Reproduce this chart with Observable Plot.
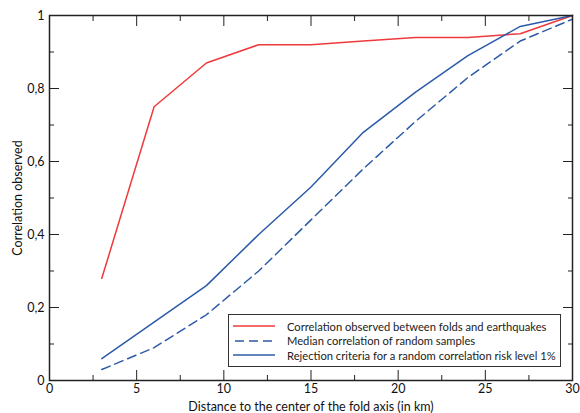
<!DOCTYPE html>
<html>
<head>
<meta charset="utf-8">
<script src="https://cdn.jsdelivr.net/npm/d3@7"></script>
<script src="https://cdn.jsdelivr.net/npm/@observablehq/plot@0.6"></script>
<style>
  body { margin: 0; background: #fff; font-family: Lato, "Open Sans", sans-serif; }
  #wrap { position: relative; width: 580px; height: 413px; }
  #legend { position: absolute; left: 228px; top: 314px; width: 333px; height: 53px; box-sizing: border-box;
    border: 1px solid #333; background: #fff; font-size: 11.2px; color: #222; padding-top: 4px; white-space: nowrap; overflow: hidden; }
  #legend .row { display: flex; align-items: center; height: 14.5px; }
  #legend svg { margin-left: 4px; margin-right: 12px; flex: none; }
</style>
</head>
<body>
<div id="wrap"></div>
<script>
const distance = [3, 6, 9, 12, 15, 18, 21, 24, 27, 30];
const observed = [0.28, 0.75, 0.87, 0.92, 0.92, 0.93, 0.94, 0.94, 0.95, 1.0];
const medianRandom = [0.03, 0.09, 0.18, 0.30, 0.44, 0.58, 0.71, 0.83, 0.93, 0.99];
const rejection = [0.06, 0.16, 0.26, 0.40, 0.53, 0.68, 0.79, 0.89, 0.97, 1.0];
const xMajor = [0, 5, 10, 15, 20, 25, 30];
const xMinor = [2.5, 7.5, 12.5, 17.5, 22.5, 27.5];
const yMajor = [0, 0.2, 0.4, 0.6, 0.8, 1];
const yMinor = [0.1, 0.3, 0.5, 0.7, 0.9];
const seriesNames = [
  "Correlation observed between folds and earthquakes",
  "Median correlation of random samples",
  "Rejection criteria for a random correlation risk level 1%"
];
const red = "#ee3a3c", blue = "#2c5aa8";

const rows = (ys) => distance.map((x, i) => ({x, y: ys[i]}));
const fmt = d => String(d).replace(".", ",");
const blank = () => "";

const tickAxes = [];
for (const [ticks, size] of [[xMajor, -10], [xMinor, -5]]) {
  tickAxes.push(Plot.axisX(ticks, {anchor: "bottom", tickSize: size, tickFormat: blank, label: null, stroke: "#222"}));
  tickAxes.push(Plot.axisX(ticks, {anchor: "top", tickSize: size, tickFormat: blank, label: null, stroke: "#222"}));
}
for (const [ticks, size] of [[yMajor, -10], [yMinor, -5]]) {
  tickAxes.push(Plot.axisY(ticks, {anchor: "left", tickSize: size, tickFormat: blank, label: null, stroke: "#222"}));
  tickAxes.push(Plot.axisY(ticks, {anchor: "right", tickSize: size, tickFormat: blank, label: null, stroke: "#222"}));
}

const chart = Plot.plot({
  width: 580,
  height: 413,
  marginLeft: 49,
  marginRight: 8,
  marginTop: 15,
  marginBottom: 33,
  style: {fontFamily: "Lato, 'Open Sans', sans-serif", fontSize: "12.5px", color: "#111", background: "#fff"},
  x: {domain: [0, 30]},
  y: {domain: [0, 1]},
  marks: [
    Plot.line(rows(observed), {x: "x", y: "y", stroke: red, strokeWidth: 1.5}),
    Plot.line(rows(medianRandom), {x: "x", y: "y", stroke: blue, strokeWidth: 1.5, strokeDasharray: "9,5"}),
    Plot.line(rows(rejection), {x: "x", y: "y", stroke: blue, strokeWidth: 1.5}),
    ...tickAxes,
    Plot.axisX(xMajor, {anchor: "bottom", tickSize: 0, tickPadding: 4, tickFormat: fmt,
      label: "Distance to the center of the fold axis (in km)", labelAnchor: "center", labelOffset: 30, labelArrow: "none"}),
    Plot.axisY(yMajor, {anchor: "left", tickSize: 0, tickPadding: 5, tickFormat: fmt,
      label: "Correlation observed", labelAnchor: "center", labelOffset: 36, labelArrow: "none"}),
    Plot.frame({stroke: "#222", strokeWidth: 1.5})
  ]
});
const wrap = document.getElementById("wrap");
wrap.appendChild(chart);

const legend = document.createElement("div");
legend.id = "legend";
const styles = [[red, null], [blue, "9,5"], [blue, null]];
seriesNames.forEach((name, i) => {
  const row = document.createElement("div");
  row.className = "row";
  const [c, dash] = styles[i];
  row.innerHTML = `<svg width="42" height="6"><line x1="0" x2="42" y1="3" y2="3" stroke="${c}" stroke-width="1.6" ${dash ? `stroke-dasharray="${dash}" stroke-dashoffset="-2"` : ""}/></svg><span>${name}</span>`;
  legend.appendChild(row);
});
wrap.appendChild(legend);
</script>
</body>
</html>
